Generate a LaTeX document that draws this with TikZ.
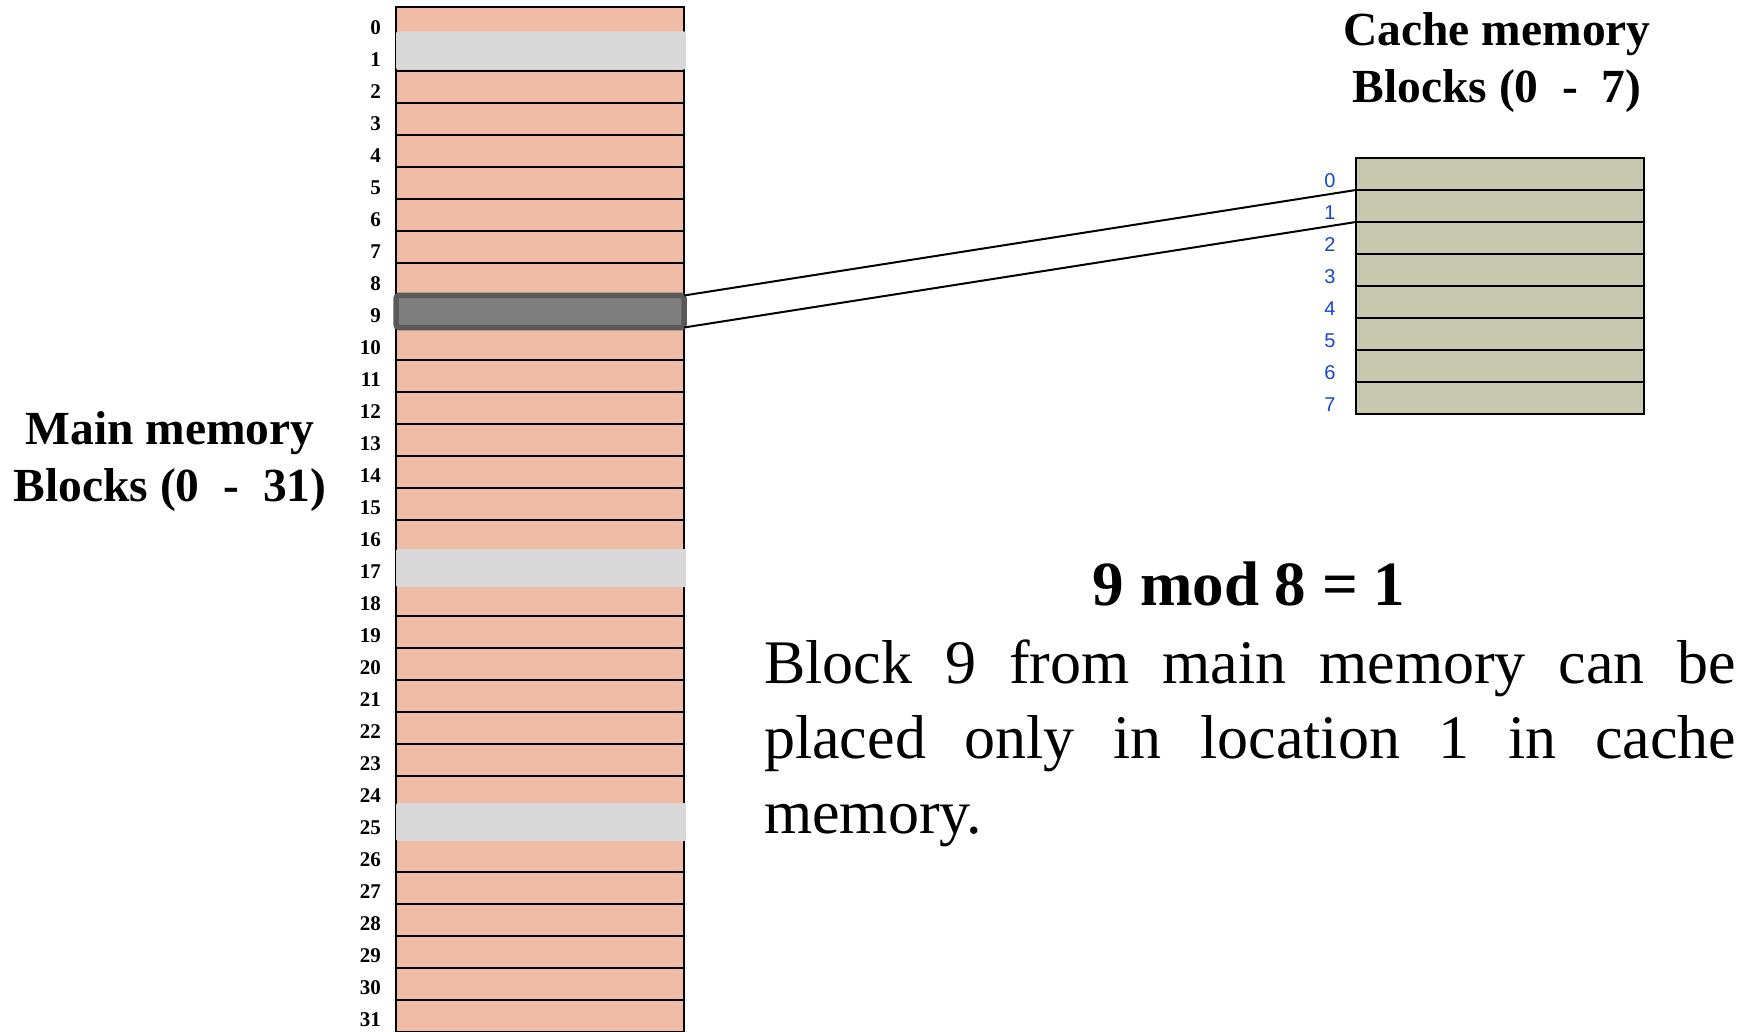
\documentclass[tikz,border=0pt]{standalone}
\usepackage{fontspec}
\setmainfont{Liberation Serif}
\setsansfont{Liberation Sans}
\usepackage{xcolor}
\usepackage{tikz}
\usetikzlibrary{positioning}
\definecolor{memPink}{RGB}{241, 188, 166}
\definecolor{cacheTan}{RGB}{201, 200, 176}
\definecolor{hiGray}{RGB}{217, 217, 217}
\definecolor{selFill}{RGB}{127, 127, 127}
\definecolor{selLine}{RGB}{89, 89, 89}
\definecolor{numBlue}{RGB}{20, 70, 210}
\tikzset{
    mrow/.style={
        rectangle,
        draw=black,
        line width=2pt,
        fill=memPink,
        minimum width=288pt,
        minimum height=32pt,
        inner sep=0pt,
        outer sep=0pt
    },
    crow/.style={
        mrow,
        line width=1.6pt,
        fill=cacheTan
    },
    hilite/.style={
        rectangle,
        rounded corners=2pt,
        fill=hiGray,
        minimum width=290pt,
        minimum height=38pt,
        inner sep=0pt
    },
    selbox/.style={
        mrow,
        rounded corners=3pt,
        draw=selLine,
        line width=5.5pt,
        fill=selFill
    },
    mnum/.style={
        font=\bfseries\fontsize{21}{24}\selectfont,
        inner sep=0pt,
        anchor=east
    },
    cnum/.style={
        font=\sffamily\fontsize{20}{22}\selectfont,
        text=numBlue,
        inner sep=0pt
    },
    heading/.style={
        font=\bfseries\fontsize{47.5}{57}\selectfont,
        align=center,
        inner sep=0pt,
        anchor=base
    },
    link/.style={
        line width=2pt,
        color=black
    }
}

\begin{document}
\begin{tikzpicture}[x=1pt, y=-1pt]
  \useasboundingbox (0,0) rectangle (1756,1032);

  % Main memory blocks
  \foreach \i in {0,...,31} {
    \node[mrow] (m\i) at (540, {23.5+32*\i}) {};
    \node[mnum] (n\i) at (381, {28+32*\i}) {\i};
  }

  % Blocks that map to the same cache line
  \node[hilite] (h1) at (541, 50.5) {};
  \node[hilite] (h17) at (541, 568) {};
  \node[hilite] (h25) at (541, 822) {};

  % Block 9
  \node[selbox] (s9) at (m9) {};

  % Cache memory lines
  \foreach \i in {0,...,7} {
    \node[crow] (c\i) at (1500, {174+32*\i}) {};
    \node[cnum] (k\i) at (1330, {181+32*\i}) {\i};
  }

  % Mapping
  \draw[link] (s9.north east) -- (c1.north west);
  \draw[link] (s9.south east) -- (c1.south west);

  % Annotations
  \node[heading] (mtitle) at (170, 501) {Main memory\\Blocks (0\ \ -\ \ 31)};
  \node[heading] (ctitle) at (1497, 103) {Cache memory\\Blocks (0\ \ -\ \ 7)};
  \node[font=\bfseries\fontsize{63}{75}\selectfont, inner sep=0pt, anchor=base] (eqn) at (1249, 605) {9 mod 8 = 1};
  \node[font=\fontsize{62}{75}\selectfont, text width=972pt, align=justify, inner sep=0pt, anchor=base west] (note) at (764, 683)
    {Block 9 from main memory can be placed only in location 1 in cache \mbox{memory.}};
\end{tikzpicture}
\end{document}
